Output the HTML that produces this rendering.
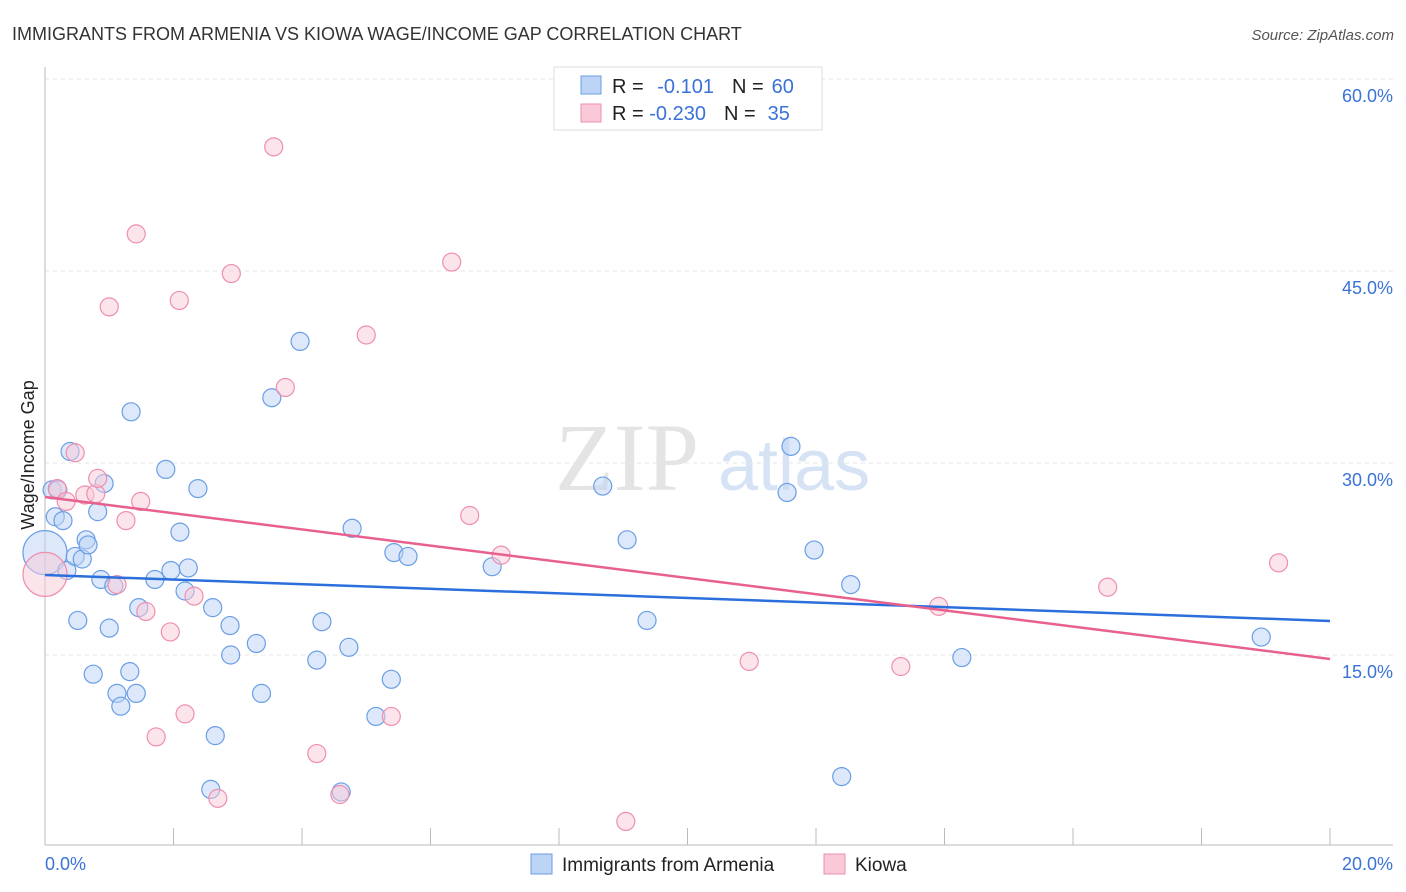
<!DOCTYPE html>
<html><head><meta charset="utf-8"><style>
body{margin:0;background:#fff;font-family:"Liberation Sans",sans-serif;}
svg{display:block}
</style></head><body>
<svg id="chart" width="1406" height="892" viewBox="0 0 1406 892">
<text x="12" y="40" font-size="18" fill="#333">IMMIGRANTS FROM ARMENIA VS KIOWA WAGE/INCOME GAP CORRELATION CHART</text>
<text x="1394" y="40" font-size="15" fill="#555" font-style="italic" text-anchor="end">Source: ZipAtlas.com</text>
<text x="555" y="490" font-size="96" fill="#e4e4e4" font-family="Liberation Serif,serif">ZIP</text>
<text x="718" y="490" font-size="72" fill="#d6e3f5">atlas</text>
<g id="grid"></g>
<g id="axes"></g>
<g id="marks"></g>
<text transform="translate(34,455) rotate(-90)" font-size="18" fill="#222" text-anchor="middle">Wage/Income Gap</text>
<g>
<rect x="554" y="67" width="268" height="63" fill="#fff" stroke="#ddd"/>
<rect x="581" y="76" width="20" height="18" fill="#bcd4f5" stroke="#6a9ee6"/>
<rect x="581" y="104" width="20" height="18" fill="#f9c9d8" stroke="#ee8fb0"/>
<text x="612" y="93" font-size="20" fill="#222">R = <tspan fill="#3a72d8" dx="8">-0.101</tspan><tspan fill="#222" dx="18">N =</tspan><tspan fill="#3a72d8" dx="8">60</tspan></text>
<text x="612" y="120" font-size="20" fill="#222">R = <tspan fill="#3a72d8">-0.230</tspan><tspan fill="#222" dx="18">N =</tspan><tspan fill="#3a72d8" dx="12">35</tspan></text>
</g>
<g>
<rect x="531" y="854" width="21" height="20" fill="#bcd4f5" stroke="#6a9ee6"/>
<text x="562" y="871" font-size="19" fill="#222">Immigrants from Armenia</text>
<rect x="824" y="854" width="21" height="20" fill="#f9c9d8" stroke="#ee8fb0"/>
<text x="855" y="871" font-size="19" fill="#222">Kiowa</text>
</g>
</svg>
<script>
const blueX=[0,0.11,0.16,0.28,0.39,0.2,0.34,0.47,0.58,0.64,0.67,0.51,0.75,0.82,0.87,0.92,1.0,1.07,1.12,1.18,1.32,1.42,1.34,1.46,1.71,1.88,1.96,2.1,2.18,2.23,2.38,2.61,2.65,2.58,2.88,2.89,3.29,3.37,3.53,3.97,4.23,4.31,4.61,4.73,4.78,5.15,5.39,5.43,5.65,6.96,8.68,9.06,9.37,11.55,11.61,11.97,12.4,12.54,14.27,18.93];
const blueY=[23.0,27.9,25.8,25.5,30.9,27.9,21.6,22.7,22.5,24.0,23.6,17.7,13.5,26.2,20.9,28.4,17.1,20.4,12.0,11.0,13.7,12.0,34.0,18.7,20.9,29.5,21.6,24.6,20.0,21.8,28.0,18.7,8.7,4.5,17.3,15.0,15.9,12.0,35.1,39.5,14.6,17.6,4.3,15.6,24.9,10.2,13.1,23.0,22.7,21.9,28.2,24.0,17.7,27.7,31.3,23.2,5.5,20.5,14.8,16.4];
const pinkX=[0,0.19,0.33,0.47,0.62,0.79,0.82,1.0,1.12,1.26,1.42,1.49,1.57,1.73,1.95,2.09,2.18,2.32,2.69,2.9,3.56,3.74,4.23,4.59,5.0,5.39,6.33,6.61,7.1,9.04,10.96,13.32,13.91,16.54,19.2];
const pinkY=[21.3,28.0,27.0,30.8,27.5,27.6,28.8,42.2,20.5,25.5,47.9,27.0,18.4,8.6,16.8,42.7,10.4,19.6,3.8,44.8,54.7,35.9,7.3,4.1,40.0,10.2,45.7,25.9,22.8,2.0,14.5,14.1,18.8,20.3,22.2];
const trendBlue=[21.25,17.66];
const trendPink=[27.34,14.69];
const yTicks=[15,30,45,60];
const yTickLabels=["15.0%","30.0%","45.0%","60.0%"];
const xTicks=[0,2,4,6,8,10,12,14,16,18,20];
const xLabels=["0.0%","20.0%"];
const NS="http://www.w3.org/2000/svg";
const sx=v=>45+v*64.25, sy=v=>847-v*12.8;
function mk(tag,attrs,parent){const e=document.createElementNS(NS,tag);for(const k in attrs)e.setAttribute(k,attrs[k]);document.getElementById(parent).appendChild(e);return e;}
yTicks.forEach((t,i)=>{
 const l=mk('line',{x1:45,x2:1393,y1:sy(t),y2:sy(t),stroke:'#e6e6e6','stroke-dasharray':'4 4'},'grid');
 
 
 const tx=mk('text',{x:1393,y:sy(t)+23,'font-size':18,fill:'#3a72d8','text-anchor':'end'},'grid');
 tx.textContent=yTickLabels[i];
 
 
});
const ax=mk('line',{x1:45,x2:45,y1:67,y2:845,stroke:'#bbb'},'axes');


const bx=mk('line',{x1:45,x2:1393,y1:845,y2:845,stroke:'#bbb'},'axes');


xTicks.forEach(t=>{
 const l=mk('line',{x1:sx(t),x2:sx(t),y1:828,y2:845,stroke:'#bbb'},'axes');
 
 
});
const xl0=mk('text',{x:45,y:870,'font-size':18,fill:'#3a72d8'},'axes');xl0.textContent=xLabels[0];


const xl1=mk('text',{x:1393,y:870,'font-size':18,fill:'#3a72d8','text-anchor':'end'},'axes');xl1.textContent=xLabels[1];


function pts(X,Y,fill,stroke,name){X.forEach((x,i)=>{
 const r=(x===0)?22:9;
 const c=mk('circle',{cx:sx(x),cy:sy(Y[i]),r:r,fill:fill,'fill-opacity':0.5,stroke:stroke,'stroke-width':1.2},'marks');
 
 
});}
pts(blueX,blueY,'#bcd4f5','#6a9ee6','armenia-point');
pts(pinkX,pinkY,'#f9c9d8','#ee8fb0','kiowa-point');
const tb=mk('line',{x1:sx(0),x2:sx(20),y1:sy(trendBlue[0]),y2:sy(trendBlue[1]),stroke:'#2a6fdb','stroke-width':2.5},'marks');


const tp=mk('line',{x1:sx(0),x2:sx(20),y1:sy(trendPink[0]),y2:sy(trendPink[1]),stroke:'#e8608e','stroke-width':2.5},'marks');


</script>
</body></html>
